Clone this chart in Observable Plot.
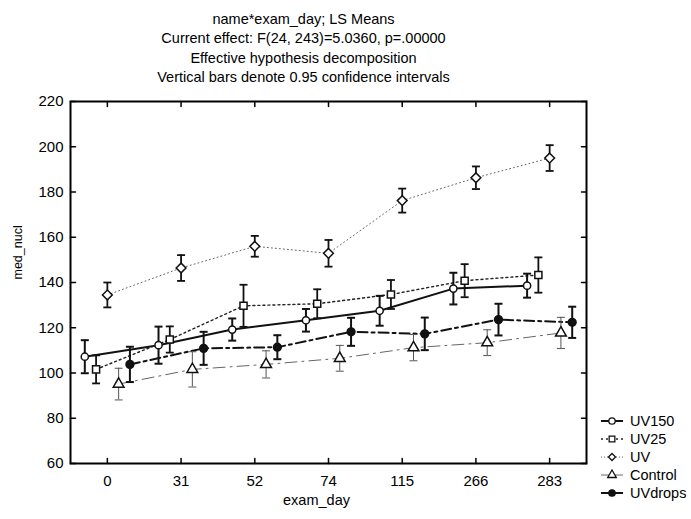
<!DOCTYPE html>
<html><head><meta charset="utf-8">
<script src="https://cdn.jsdelivr.net/npm/d3@7"></script>
<script src="https://cdn.jsdelivr.net/npm/@observablehq/plot@0.6"></script>
<style>body{margin:0;background:#fff}</style>
</head><body><div id="chart"></div>
<script>
// ---- data ----
const days = ["0", "31", "52", "74", "115", "266", "283"];
const seriesNames = ["UV150", "UV25", "UV", "Control", "UVdrops"];
const uv150 = [107.2, 112.3, 119.2, 123.3, 127.5, 137.3, 138.6];
const uv150Ci = [7.3, 8.2, 4.9, 5.0, 6.6, 7.0, 5.3];
const uv25 = [101.6, 114.8, 129.7, 130.6, 134.7, 140.8, 143.3];
const uv25Ci = [6.2, 5.8, 9.3, 6.4, 6.4, 7.3, 7.8];
const uv = [134.5, 146.4, 156.0, 152.9, 176.2, 186.3, 195.0];
const uvCi = [5.5, 5.7, 4.6, 5.9, 5.3, 5.0, 5.7];
const control = [95.1, 101.6, 103.8, 106.5, 111.2, 113.4, 117.7];
const controlCi = [7.0, 7.8, 6.0, 5.7, 5.8, 5.7, 6.9];
const uvdrops = [103.8, 110.9, 111.4, 118.2, 117.3, 123.6, 122.4];
const uvdropsCi = [7.8, 7.3, 5.3, 6.2, 7.2, 7.0, 6.9];
const yTicks = [60, 80, 100, 120, 140, 160, 180, 200, 220];
const titleLines = [
  "name*exam_day; LS Means",
  "Current effect: F(24, 243)=5.0360, p=.00000",
  "Effective hypothesis decomposition",
  "Vertical bars denote 0.95 confidence intervals"
];
const xLabel = "exam_day";
const yLabel = "med_nucl";

// ---- styles ----
const FONT = "'Liberation Sans', Arial, sans-serif";
const means = [uv150, uv25, uv, control, uvdrops];
const cis = [uv150Ci, uv25Ci, uvCi, controlCi, uvdropsCi];
const styles = [
  {stroke: "#111", width: 2, dash: null, legendDash: null, symbol: "circle", fill: "white", r: 3.6, eb: 2, ebStroke: "#111"},
  {stroke: "#222", width: 1.4, dash: "2,3", legendDash: "2,3", symbol: "square", fill: "white", r: 4, eb: 1.8, ebStroke: "#111"},
  {stroke: "#666", width: 1, dash: "1,3", legendDash: "1,2", symbol: "diamond2", fill: "white", r: 4.4, eb: 1.8, ebStroke: "#111"},
  {stroke: "#666", width: 1, dash: "12,5,2,5", legendDash: null, symbol: "triangle", fill: "white", r: 4, eb: 1, ebStroke: "#555"},
  {stroke: "#111", width: 2, dash: "10,4,3,4", legendDash: null, symbol: "circle", fill: "#111", r: 3.9, eb: 2, ebStroke: "#111"}
];
const spread = 0.153;

const rowsBySeries = seriesNames.map((name, k) => days.map((d, i) => ({
  series: name, day: d,
  x: i + (k - 2) * spread,
  mean: means[k][i],
  lo: means[k][i] - cis[k][i],
  hi: means[k][i] + cis[k][i]
})));

const cap = {draw(ctx) { ctx.moveTo(-4, 0); ctx.lineTo(4, 0); }};
const tickShape = {draw(ctx, l) { ctx.moveTo(0, 0); ctx.lineTo(0, -l); }};

const marks = [];
rowsBySeries.forEach((rows, k) => {
  const s = styles[k];
  marks.push(Plot.line(rows, {x: "x", y: "mean", stroke: s.stroke, strokeWidth: s.width, strokeDasharray: s.dash}));
});
rowsBySeries.forEach((rows, k) => {
  const s = styles[k];
  marks.push(Plot.ruleX(rows, {x: "x", y1: "lo", y2: "hi", stroke: s.ebStroke, strokeWidth: s.eb}));
  marks.push(Plot.dot(rows, {x: "x", y: "lo", symbol: cap, stroke: s.ebStroke, strokeWidth: s.eb}));
  marks.push(Plot.dot(rows, {x: "x", y: "hi", symbol: cap, stroke: s.ebStroke, strokeWidth: s.eb}));
});
rowsBySeries.forEach((rows, k) => {
  const s = styles[k];
  marks.push(Plot.dot(rows, {x: "x", y: "mean", symbol: s.symbol, r: s.r, fill: s.fill, stroke: "#111", strokeWidth: 1.5}));
});

const xIdx = d3.range(days.length);
const chart = Plot.plot({
  width: 691, height: 519,
  marginLeft: 70, marginRight: 105, marginTop: 101, marginBottom: 56,
  style: {fontFamily: FONT, fontSize: "15px", color: "black", background: "white", overflow: "visible"},
  x: {type: "linear", domain: [-0.5, days.length - 0.5]},
  y: {domain: [60, 220]},
  marks: [
    ...marks,
    Plot.frame({stroke: "black", strokeWidth: 2}),
    Plot.vector(yTicks, {y: d => d, frameAnchor: "left", rotate: 90, length: 5, anchor: "start", shape: tickShape, stroke: "black", strokeWidth: 1.5}),
    Plot.vector(yTicks, {y: d => d, frameAnchor: "right", rotate: -90, length: 5, anchor: "start", shape: tickShape, stroke: "black", strokeWidth: 1.5}),
    Plot.vector(xIdx, {x: d => d, frameAnchor: "bottom", rotate: 0, length: 5, anchor: "start", shape: tickShape, stroke: "black", strokeWidth: 1.5}),
    Plot.vector(xIdx, {x: d => d, frameAnchor: "top", rotate: 180, length: 5, anchor: "start", shape: tickShape, stroke: "black", strokeWidth: 1.5}),
    Plot.axisY({ticks: yTicks, tickSize: 0, tickPadding: 7, label: null, fontSize: 15}),
    Plot.axisX({ticks: xIdx, tickFormat: i => days[i], tickSize: 0, tickPadding: 12, label: null, fontSize: 15}),
    Plot.text([yLabel], {frameAnchor: "left", dx: -53, dy: -3, rotate: -90, fontSize: 12.5}),
    Plot.text([xLabel], {frameAnchor: "bottom", dx: -12, dy: 41, fontSize: 14.5}),
    Plot.text([titleLines.join("\n")], {frameAnchor: "top", dx: -25, dy: -91, lineAnchor: "top", lineHeight: 1.33, fontSize: 14.5})
  ]
});
document.getElementById("chart").appendChild(chart);

// ---- legend ----
const svg = d3.select(chart);
const lg = svg.append("g").attr("font-family", FONT).attr("font-size", 14.5).attr("text-anchor", "start");
const symMap = {circle: d3.symbolCircle, square: d3.symbolSquare, diamond2: d3.symbolDiamond2, triangle: d3.symbolTriangle};
seriesNames.forEach((name, k) => {
  const s = styles[k];
  const y = 421 + k * 18;
  lg.append("line").attr("x1", 601).attr("x2", 623).attr("y1", y).attr("y2", y)
    .attr("stroke", s.stroke).attr("stroke-width", s.width).attr("stroke-dasharray", s.legendDash);
  lg.append("path").attr("transform", `translate(612,${y})`)
    .attr("d", d3.symbol(symMap[s.symbol], Math.PI * 3.2 * 3.2)())
    .attr("fill", s.fill).attr("stroke", "#111").attr("stroke-width", 1.3);
  lg.append("text").attr("x", 630).attr("y", y).attr("dy", "0.36em").attr("fill", "black").text(name);
});
</script>
</body></html>
